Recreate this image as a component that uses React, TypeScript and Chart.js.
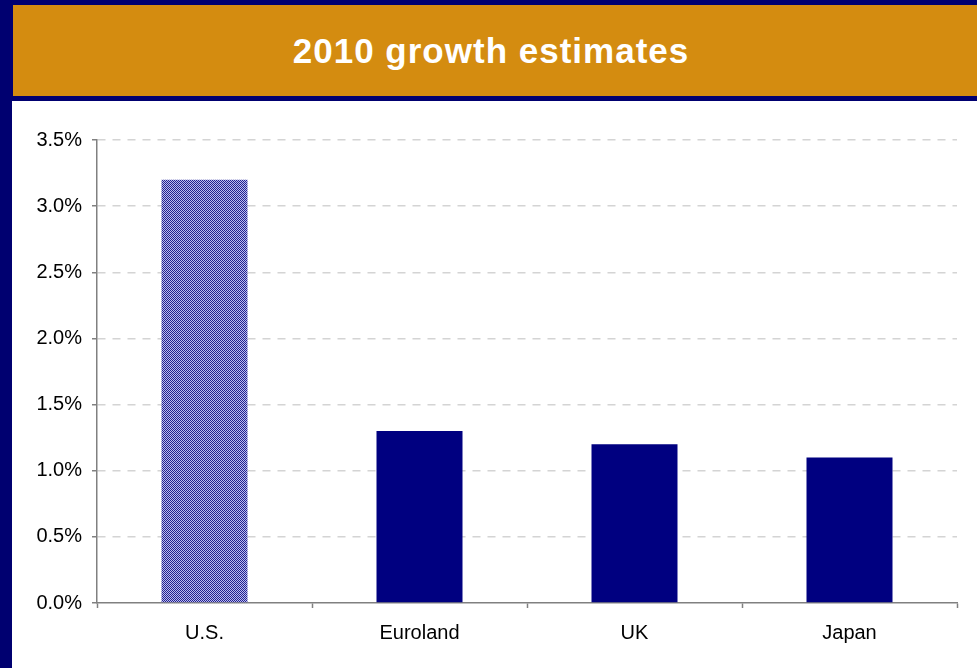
import React, { useEffect, useRef } from "react";
import { Chart, registerables } from "chart.js";

Chart.register(...registerables);

const categories = ["U.S.", "Euroland", "UK", "Japan"];
const growth = [3.2, 1.3, 1.2, 1.1];
const yTicks = [0, 0.5, 1.0, 1.5, 2.0, 2.5, 3.0, 3.5];
const title = "2010 growth estimates";

function makePattern(): CanvasPattern | string {
  const c = document.createElement("canvas");
  c.width = 2;
  c.height = 2;
  const ctx = c.getContext("2d");
  if (!ctx) return "#6a6abf";
  ctx.fillStyle = "#22228e";
  ctx.fillRect(0, 0, 2, 2);
  ctx.fillStyle = "#bcbcf0";
  ctx.fillRect(0, 0, 1, 1);
  ctx.fillRect(1, 1, 1, 1);
  const p = ctx.createPattern(c, "repeat");
  return p || "#6a6abf";
}

export default function App() {
  const ref = useRef<HTMLCanvasElement | null>(null);

  useEffect(() => {
    document.body.style.margin = "0";
    if (!ref.current) return;
    const pattern = makePattern();
    const colors = categories.map((_, i) => (i === 0 ? pattern : "#000080"));
    const chart = new Chart(ref.current, {
      type: "bar",
      data: {
        labels: categories,
        datasets: [
          {
            data: growth,
            backgroundColor: colors as any,
            borderWidth: 0,
            barPercentage: 0.4,
            categoryPercentage: 1,
          },
        ],
      },
      options: {
        animation: false,
        responsive: false,
        maintainAspectRatio: false,
        layout: { padding: { top: 39, right: 20, left: 0, bottom: 0 } },
        plugins: { legend: { display: false }, tooltip: { enabled: false }, title: { display: false } },
        scales: {
          x: {
            grid: {
              offset: true,
              drawOnChartArea: false,
              drawTicks: true,
              tickLength: 5,
              tickColor: "#808080",
              tickWidth: 1.5,
            },
            border: { display: true, color: "#808080", width: 1.5 },
            ticks: {
              color: "#000",
              font: { family: "'Liberation Sans', Arial, sans-serif", size: 20 },
              padding: 13,
              maxRotation: 0,
            },
            afterFit: (s: any) => {
              s.height = 65;
            },
          },
          y: {
            min: 0,
            max: 3.5,
            afterBuildTicks: (s: any) => {
              s.ticks = yTicks.map((v) => ({ value: v }));
            },
            grid: {
              color: (c: any) => (c.tick && c.tick.value === 0 ? "rgba(0,0,0,0)" : "#d4d4d4"),
              lineWidth: 1.5,
              drawTicks: true,
              tickLength: 5,
              tickColor: "#808080",
              tickWidth: 1.5,
              tickBorderDash: [],
            } as any,
            border: { display: true, color: "#808080", width: 1.5, dash: [8, 7] },
            ticks: {
              color: "#000",
              font: { family: "'Liberation Sans', Arial, sans-serif", size: 20 },
              padding: 10,
              callback: (v: any) => Number(v).toFixed(1) + "%",
            },
            afterFit: (s: any) => {
              s.width = 85;
            },
          },
        },
      },
    });
    return () => chart.destroy();
  }, []);

  return (
    <div
      style={{
        position: "absolute",
        left: 0,
        top: 0,
        width: 977,
        height: 668,
        background: "#000070",
        overflow: "hidden",
      }}
    >
      <div
        style={{
          position: "absolute",
          left: 13,
          top: 5,
          width: 964,
          height: 91,
          background: "#d48c10",
          display: "flex",
          alignItems: "center",
          justifyContent: "center",
          color: "#fff",
          fontFamily: "'Liberation Sans', Arial, sans-serif",
          fontWeight: "bold",
          fontSize: 35,
          letterSpacing: 1,
          paddingRight: 8,
          boxSizing: "border-box",
        }}
      >
        {title}
      </div>
      <div
        style={{
          position: "absolute",
          left: 12,
          top: 101,
          width: 965,
          height: 567,
          background: "#fff",
        }}
      >
        <canvas ref={ref} width={965} height={567} style={{ display: "block", width: 965, height: 567 }} />
      </div>
    </div>
  );
}
